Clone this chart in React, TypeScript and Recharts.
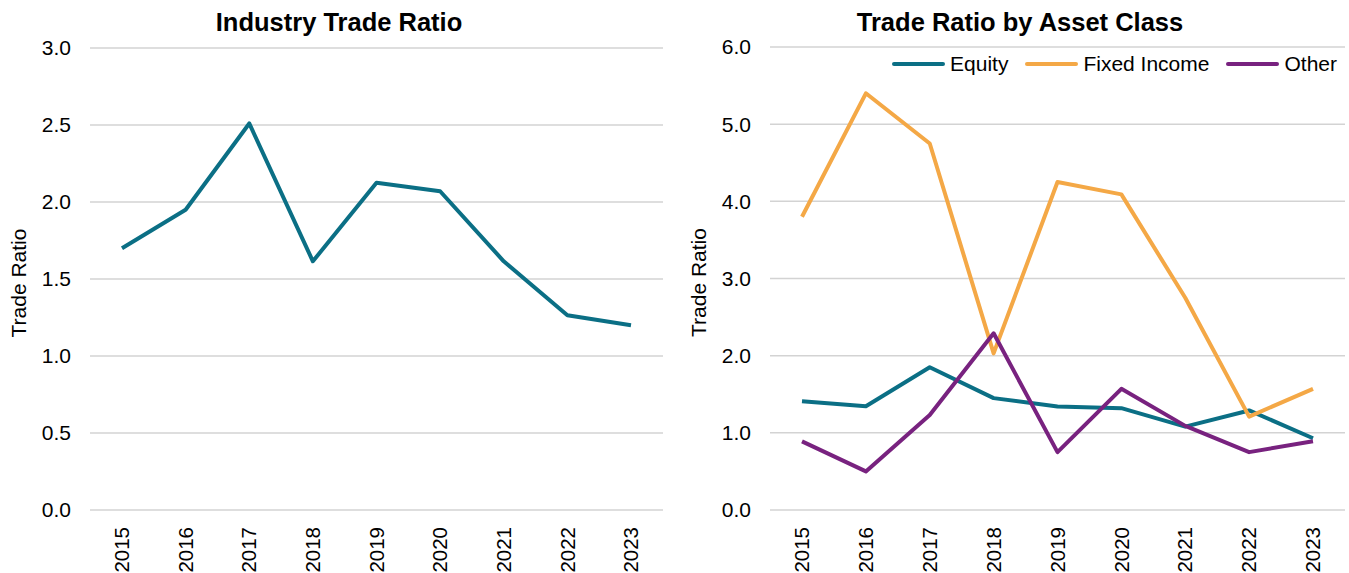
import React from 'react';
import { LineChart, Line, XAxis, YAxis, CartesianGrid, Label } from 'recharts';

const years = ['2015', '2016', '2017', '2018', '2019', '2020', '2021', '2022', '2023'];
const industryRatio = [1.7, 1.95, 2.51, 1.615, 2.125, 2.07, 1.615, 1.265, 1.2];
const equityRatio = [1.41, 1.345, 1.85, 1.45, 1.34, 1.32, 1.08, 1.29, 0.93];
const fixedIncomeRatio = [3.8, 5.4, 4.75, 2.03, 4.25, 4.09, 2.75, 1.21, 1.57];
const otherRatio = [0.89, 0.5, 1.23, 2.29, 0.75, 1.57, 1.09, 0.75, 0.89];
const leftTicks = [0, 0.5, 1, 1.5, 2, 2.5, 3];
const rightTicks = [0, 1, 2, 3, 4, 5, 6];

const FONT = '"Liberation Sans", Arial, sans-serif';
const TEAL = '#0B6F85';
const ORANGE = '#F4A846';
const PURPLE = '#78227F';
const TEXT_SIZE = 21;

const series = [
  { key: 'equity', name: 'Equity', color: TEAL },
  { key: 'fixedIncome', name: 'Fixed Income', color: ORANGE },
  { key: 'other', name: 'Other', color: PURPLE },
];

const industryData = years.map((year, i) => ({ year, ratio: industryRatio[i] }));
const assetData = years.map((year, i) => ({
  year,
  equity: equityRatio[i],
  fixedIncome: fixedIncomeRatio[i],
  other: otherRatio[i],
}));

function YearTick({ x, y, payload }: any) {
  return (
    <g transform={`translate(${x},${y + 9})`}>
      <text transform="rotate(-90)" textAnchor="end" dy="0.35em" fill="#000" fontSize={20.5} fontFamily={FONT}>
        {payload.value}
      </text>
    </g>
  );
}

function AxisTitle({ viewBox }: any) {
  const cx = viewBox.x + 19;
  const cy = viewBox.y + viewBox.height / 2 + 4;
  return (
    <text
      x={cx}
      y={cy}
      transform={`rotate(-90 ${cx} ${cy})`}
      textAnchor="middle"
      dy="0.35em"
      fill="#000"
      fontSize={TEXT_SIZE}
      fontFamily={FONT}
    >
      Trade Ratio
    </text>
  );
}

const tickStyle = { fill: '#000', fontSize: TEXT_SIZE, fontFamily: FONT };
const titleStyle: React.CSSProperties = {
  position: 'absolute',
  top: 10,
  fontFamily: FONT,
  fontWeight: 700,
  fontSize: 25.5,
  lineHeight: 1,
  whiteSpace: 'nowrap',
  transform: 'translateX(-50%)',
};

export default function App() {
  return (
    <div style={{ position: 'absolute', left: 0, top: 0, width: 1349, height: 573, background: '#fff', fontFamily: FONT }}>
      <div style={{ ...titleStyle, left: 339 }}>Industry Trade Ratio</div>
      <div style={{ ...titleStyle, left: 1020 }}>Trade Ratio by Asset Class</div>

      <div style={{ position: 'absolute', left: 0, top: 0 }}>
        <LineChart width={680} height={573} data={industryData} margin={{ top: 48, right: 17, bottom: 0, left: 0 }}>
          <CartesianGrid vertical={false} stroke="#D3D3D3" strokeWidth={1.5} />
          <XAxis
            dataKey="year"
            axisLine={false}
            tickLine={false}
            height={63}
            interval={0}
            padding={{ left: 32, right: 32 }}
            tick={<YearTick />}
          />
          <YAxis
            domain={[0, 3]}
            ticks={leftTicks}
            width={90}
            axisLine={false}
            tickLine={false}
            tickSize={0}
            tickMargin={19}
            tick={tickStyle}
            tickFormatter={(v: number) => v.toFixed(1)}
          >
            <Label content={<AxisTitle />} />
          </YAxis>
          <Line
            dataKey="ratio"
            stroke={TEAL}
            strokeWidth={4}
            dot={false}
            strokeLinejoin="round"
            isAnimationActive={false}
          />
        </LineChart>
      </div>

      <div style={{ position: 'absolute', left: 680, top: 0 }}>
        <LineChart width={669} height={573} data={assetData} margin={{ top: 47, right: 4, bottom: 0, left: 0 }}>
          <CartesianGrid vertical={false} stroke="#D3D3D3" strokeWidth={1.5} />
          <XAxis
            dataKey="year"
            axisLine={false}
            tickLine={false}
            height={63}
            interval={0}
            padding={{ left: 32, right: 32 }}
            tick={<YearTick />}
          />
          <YAxis
            domain={[0, 6]}
            ticks={rightTicks}
            width={90}
            axisLine={false}
            tickLine={false}
            tickSize={0}
            tickMargin={19}
            tick={tickStyle}
            tickFormatter={(v: number) => v.toFixed(1)}
          >
            <Label content={<AxisTitle />} />
          </YAxis>
          {series.map((s) => (
            <Line
              key={s.key}
              dataKey={s.key}
              name={s.name}
              stroke={s.color}
              strokeWidth={4}
              dot={false}
              strokeLinejoin="round"
              isAnimationActive={false}
            />
          ))}
        </LineChart>
      </div>

      <div
        style={{
          position: 'absolute',
          right: 12,
          top: 52,
          display: 'flex',
          alignItems: 'center',
          gap: 17,
          fontSize: TEXT_SIZE,
          lineHeight: '24px',
        }}
      >
        {series.map((s) => (
          <div key={s.key} style={{ display: 'flex', alignItems: 'center', gap: 5 }}>
            <div style={{ width: 53, height: 4, borderRadius: 2, background: s.color }} />
            <span>{s.name}</span>
          </div>
        ))}
      </div>
    </div>
  );
}
